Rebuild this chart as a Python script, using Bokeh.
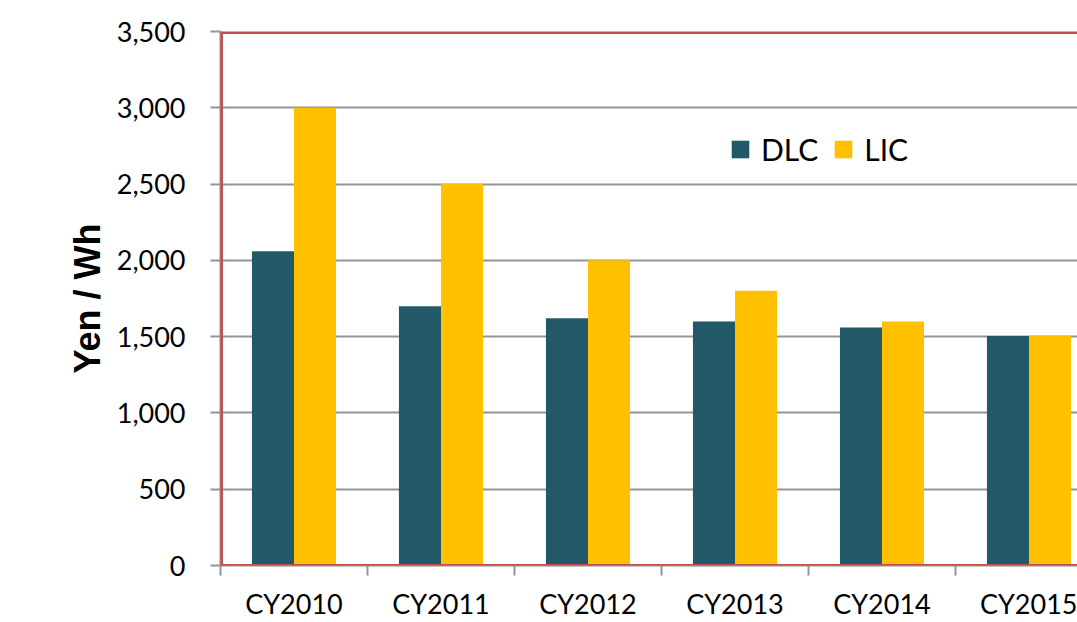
from bokeh.plotting import figure
from bokeh.models import (ColumnDataSource, Range1d, FixedTicker, NumeralTickFormatter,
                          Span, Legend, LegendItem)
from bokeh.transform import dodge
from bokeh.embed import file_html
from bokeh.resources import INLINE

categories = ["CY2010", "CY2011", "CY2012", "CY2013", "CY2014", "CY2015"]
dlc = [2060, 1700, 1620, 1600, 1560, 1505]
lic = [3000, 2500, 2000, 1800, 1600, 1505]
y_ticks = [0, 500, 1000, 1500, 2000, 2500, 3000, 3500]

xs = list(range(len(categories)))
src = ColumnDataSource(dict(x=xs, dlc=dlc, lic=lic))

FONT = "Lato"
p = figure(width=1077, height=622, output_backend="svg", toolbar_location=None,
           x_range=Range1d(-0.5, 5.33), y_range=Range1d(0, 3500),
           min_border_left=220, min_border_right=0, min_border_top=31, min_border_bottom=57)
p.outline_line_color = None
p.background_fill_color = "white"
p.border_fill_color = "white"

bw = 0.286
r1 = p.vbar(x=dodge("x", -bw / 2), top="dlc", width=bw, source=src, color="#215968", line_color=None)
r2 = p.vbar(x=dodge("x", bw / 2), top="lic", width=bw, source=src, color="#FFC000", line_color=None)

# grid
p.xgrid.grid_line_color = None
p.ygrid.grid_line_color = "#959595"
p.ygrid.grid_line_width = 2
p.ygrid.ticker = FixedTicker(ticks=y_ticks)

# y axis
p.yaxis.ticker = FixedTicker(ticks=y_ticks)
p.yaxis.formatter = NumeralTickFormatter(format="0,0")
p.yaxis.major_label_text_font = FONT
p.yaxis.major_label_text_font_size = "27px"
p.yaxis.major_label_text_color = "black"
p.yaxis.major_tick_out = 10
p.yaxis.major_tick_in = 0
p.yaxis.minor_tick_out = 0
p.yaxis.minor_tick_in = 0
p.yaxis.major_tick_line_color = "#959595"
p.yaxis.major_tick_line_width = 2
p.yaxis.axis_line_color = "#959595"
p.yaxis.axis_line_width = 2
p.yaxis.major_label_standoff = 25
p.yaxis.axis_label = "Yen / Wh"
p.yaxis.axis_label_text_font = "Liberation Sans"
p.yaxis.axis_label_text_font_style = "bold"
p.yaxis.axis_label_text_font_size = "36px"
p.yaxis.axis_label_text_color = "black"
p.yaxis.axis_label_standoff = 6

# x axis
p.xaxis.ticker = FixedTicker(ticks=xs, minor_ticks=[i - 0.5 for i in xs])
p.xaxis.major_label_overrides = {i: c for i, c in zip(xs, categories)}
p.xaxis.major_label_text_font = FONT
p.xaxis.major_label_text_font_size = "27px"
p.xaxis.major_label_text_color = "black"
p.xaxis.major_tick_out = 0
p.xaxis.major_tick_in = 0
p.xaxis.minor_tick_out = 10
p.xaxis.minor_tick_in = 0
p.xaxis.minor_tick_line_color = "#959595"
p.xaxis.minor_tick_line_width = 2
p.xaxis.axis_line_color = "#959595"
p.xaxis.axis_line_width = 2
p.xaxis.major_label_standoff = 11

# red border (top, left, bottom)
red = "#C0504D"
p.add_layout(Span(location=3500, dimension="width", line_color=red, line_width=5))
p.add_layout(Span(location=-0.5, dimension="height", line_color=red, line_width=5))
p.add_layout(Span(location=0, dimension="width", line_color=red, line_width=3))

legend = Legend(items=[LegendItem(label="DLC", renderers=[r1]),
                       LegendItem(label="LIC", renderers=[r2])],
                location=(509, 398), orientation="horizontal")
legend.label_text_font = FONT
legend.label_text_font_size = "30px"
legend.label_text_color = "black"
legend.glyph_width = 22
legend.glyph_height = 22
legend.label_standoff = 10
legend.spacing = 14
legend.padding = 0
legend.margin = 0
legend.border_line_color = None
legend.background_fill_alpha = 0
p.add_layout(legend)

open("out.html", "w").write(file_html(p, INLINE))
